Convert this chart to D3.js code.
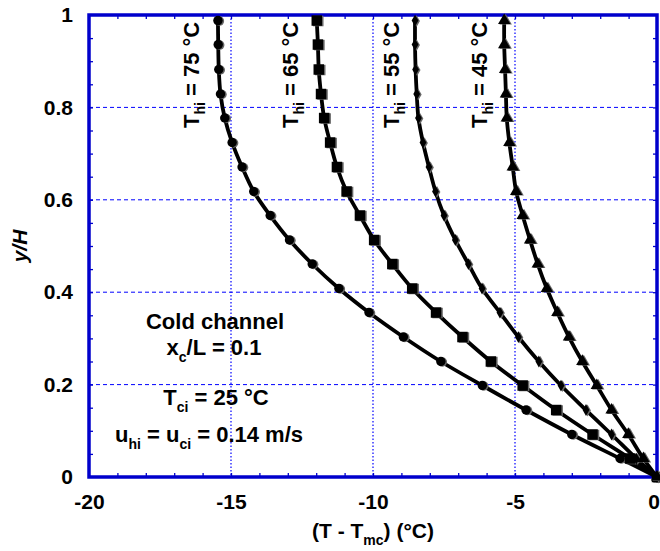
<!DOCTYPE html>
<html>
<head>
<meta charset="utf-8">
<script src="https://cdn.jsdelivr.net/npm/d3@7"></script>
<style>
  body { margin: 0; background: #fff; }
  svg { display: block; }
  text { font-family: "Liberation Sans", Arial, sans-serif; font-weight: bold; fill: #000; }
</style>
</head>
<body>
<svg id="chart" width="660" height="551"></svg>
<script>
// Dimensionless height y/H of the sampled points (shared by every curve)
const yH = [0, 0.040, 0.092, 0.145, 0.198, 0.250, 0.303, 0.356, 0.408, 0.461,
            0.513, 0.566, 0.618, 0.671, 0.724, 0.777, 0.829, 0.882, 0.936, 0.988];

// Temperature difference T - T_mc (°C) for each hot-inlet temperature
const dT75 = [0, -1.30, -3.00, -4.61, -6.15, -7.61, -8.93, -10.14, -11.20, -12.14,
              -12.94, -13.62, -14.20, -14.61, -14.96, -15.22, -15.37, -15.43, -15.45, -15.46];
const dT65 = [0, -0.95, -2.27, -3.55, -4.73, -5.85, -6.85, -7.78, -8.62, -9.32,
              -9.96, -10.46, -10.93, -11.27, -11.51, -11.72, -11.83, -11.91, -11.94, -11.98];
const dT55 = [0, -0.73, -1.60, -2.50, -3.38, -4.16, -4.88, -5.53, -6.16, -6.64,
              -7.10, -7.50, -7.80, -8.03, -8.24, -8.40, -8.46, -8.50, -8.52, -8.52];
const dT45 = [0, -0.48, -1.01, -1.60, -2.12, -2.63, -3.10, -3.51, -3.88, -4.20,
              -4.47, -4.73, -4.96, -5.08, -5.20, -5.29, -5.32, -5.35, -5.38, -5.38];

const hotInlet = ["75", "65", "55", "45"];
const markerKinds = ["circle", "square", "diamond", "triangle"];

const xTicks = [-20, -15, -10, -5, 0];
const yTicks = [0, 0.2, 0.4, 0.6, 0.8, 1];
const xGrid = [-15, -10, -5];
const yGrid = [0.2, 0.4, 0.6, 0.8];
const xMinor = d3.range(-19, 0, 1);
const yMinor = d3.range(0.05, 1, 0.05);

const svg = d3.select("#chart");
const L = 89, R = 657, T = 15, B = 477;
const x = d3.scaleLinear().domain([-20, 0]).range([L, R]);
const y = d3.scaleLinear().domain([0, 1]).range([B, T]);
const blue = "#0000cc";

// grid
svg.append("g").selectAll("line").data(yGrid).join("line")
  .attr("x1", L).attr("x2", R).attr("y1", d => y(d)).attr("y2", d => y(d))
  .attr("stroke", "#0000ff").attr("stroke-width", 1).attr("stroke-dasharray", "4,3");
svg.append("g").selectAll("line").data(xGrid).join("line")
  .attr("y1", T).attr("y2", B).attr("x1", d => x(d)).attr("x2", d => x(d))
  .attr("stroke", "#0000ff").attr("stroke-width", 1.2).attr("stroke-dasharray", "1.5,2");

// minor ticks on all four sides, pointing inward
function minor(axis, tr) {
  const g = svg.append("g").attr("transform", tr).call(axis);
  g.select(".domain").remove();
  g.selectAll(".tick line").attr("stroke", blue).attr("stroke-width", 1.3);
  g.selectAll(".tick text").remove();
}
minor(d3.axisBottom(x).tickValues(xMinor).tickSize(-4), `translate(0,${B})`);
minor(d3.axisTop(x).tickValues(xMinor).tickSize(-4), `translate(0,${T})`);
minor(d3.axisLeft(y).tickValues(yMinor).tickSize(-4), `translate(${L},0)`);
minor(d3.axisRight(y).tickValues(yMinor).tickSize(-4), `translate(${R},0)`);

// tick labels (plain hyphen for negatives)
const xa = svg.append("g").attr("transform", `translate(0,${B})`)
  .call(d3.axisBottom(x).tickValues(xTicks).tickSize(0).tickPadding(17).tickFormat(d => String(d)));
xa.select(".domain").remove();
xa.selectAll("text").attr("font-size", 21).attr("fill", "#000")
  .attr("font-family", "Liberation Sans, Arial, sans-serif").attr("font-weight", "bold");
// keep the last label inside the page edge
xa.selectAll("text").filter(d => d === 0).attr("text-anchor", "end").attr("dx", 2.5);
const ya = svg.append("g").attr("transform", `translate(${L},0)`)
  .call(d3.axisLeft(y).tickValues(yTicks).tickSize(0).tickPadding(16).tickFormat(d => d === 0 || d === 1 ? String(d) : d.toFixed(1)));
ya.select(".domain").remove();
ya.selectAll("text").attr("font-size", 21).attr("fill", "#000")
  .attr("font-family", "Liberation Sans, Arial, sans-serif").attr("font-weight", "bold");

// frame
svg.append("rect").attr("x", L).attr("y", T).attr("width", R - L).attr("height", B - T)
  .attr("fill", "none").attr("stroke", blue).attr("stroke-width", 3.5);

// curves
const seriesData = [dT75, dT65, dT55, dT45];
const line = d3.line().x(d => x(d.t)).y(d => y(d.h)).curve(d3.curveCatmullRom.alpha(0.5));
const sym = {
  circle: d3.symbol().type(d3.symbolCircle).size(70),
  square: d3.symbol().type(d3.symbolSquare).size(110),
  diamond: d3.symbol().type(d3.symbolDiamond).size(40),
  triangle: d3.symbol().type(d3.symbolTriangle).size(66)
};
seriesData.forEach((vals, i) => {
  const pts = vals.map((t, k) => ({ t, h: yH[k] }));
  svg.append("path").datum(pts).attr("d", line)
    .attr("fill", "none").attr("stroke", "#000").attr("stroke-width", 3.8)
    .attr("stroke-linejoin", "round");
  const g = svg.append("g");
  g.selectAll("path.sh").data(pts).join("path").attr("class", "sh")
    .attr("transform", d => `translate(${x(d.t) + 1.5},${y(d.h) + 0.5})`)
    .attr("d", sym[markerKinds[i]]()).attr("fill", "#666");
  g.selectAll("path.mk").data(pts).join("path").attr("class", "mk")
    .attr("transform", d => `translate(${x(d.t)},${y(d.h)})`)
    .attr("d", sym[markerKinds[i]]()).attr("fill", "#000");
});

// rotated hot-inlet labels
const labelX = [199, 297.5, 398.5, 486.5];
hotInlet.forEach((v, i) => {
  const t = svg.append("text").attr("font-size", 22)
    .attr("transform", `translate(${labelX[i]},128) rotate(-90)`);
  t.append("tspan").text("T");
  t.append("tspan").attr("font-size", 14).attr("dy", 6).text("hi");
  t.append("tspan").attr("dy", -6).text(` = ${v} °C`);
});

// annotation block
svg.append("text").attr("font-size", 22).attr("text-anchor", "middle")
  .attr("x", 215).attr("y", 329).text("Cold channel");
const a2 = svg.append("text").attr("font-size", 22).attr("text-anchor", "middle")
  .attr("x", 214).attr("y", 355);
a2.append("tspan").text("x");
a2.append("tspan").attr("font-size", 14).attr("dy", 7).text("c");
a2.append("tspan").attr("dy", -7).text("/L = 0.1");
const a3 = svg.append("text").attr("font-size", 22).attr("text-anchor", "middle")
  .attr("x", 216).attr("y", 405);
a3.append("tspan").text("T");
a3.append("tspan").attr("font-size", 14).attr("dy", 7).text("ci");
a3.append("tspan").attr("dy", -7).text(" = 25 °C");
const a4 = svg.append("text").attr("font-size", 22).attr("text-anchor", "middle")
  .attr("x", 209).attr("y", 442);
a4.append("tspan").text("u");
a4.append("tspan").attr("font-size", 14).attr("dy", 7).text("hi");
a4.append("tspan").attr("dy", -7).text(" = u");
a4.append("tspan").attr("font-size", 14).attr("dy", 7).text("ci");
a4.append("tspan").attr("dy", -7).text(" = 0.14 m/s");

// axis titles
svg.append("text").attr("font-size", 21).attr("font-style", "italic").attr("text-anchor", "middle")
  .attr("transform", `translate(27,${(T + B) / 2}) rotate(-90)`).text("y/H");
const xt = svg.append("text").attr("font-size", 21).attr("text-anchor", "middle")
  .attr("x", (L + R) / 2).attr("y", 538);
xt.append("tspan").text("(T - T");
xt.append("tspan").attr("font-size", 14).attr("dy", 7).text("mc");
xt.append("tspan").attr("dy", -7).text(") (°C)");
</script>
</body>
</html>
